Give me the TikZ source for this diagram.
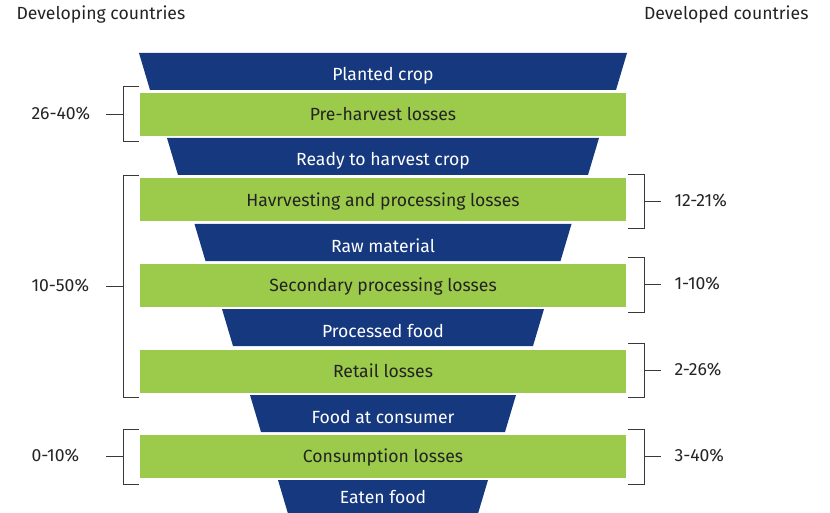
\documentclass[tikz,border=0pt]{standalone}
\usepackage{fontspec}
\setmainfont{Fira Sans}
\usetikzlibrary{positioning}
\definecolor{funnelblue}{RGB}{21,56,126}
\definecolor{lossgreen}{RGB}{156,202,74}
\definecolor{txtgray}{RGB}{35,35,35}
\newcommand{\lbl}{\fontsize{17.6}{20}\selectfont}
\tikzset{
  stage/.style={fill=funnelblue},                       % blue funnel band
  stagetxt/.style={text=white,font=\lbl,anchor=base},
  loss/.style={fill=lossgreen,minimum width=486pt,minimum height=43pt,
    inner sep=0pt,text=txtgray,font=\lbl,text height=12.5pt,text depth=0pt},
  pct/.style={text=txtgray,font=\lbl},
  brk/.style={draw=txtgray!90,line width=1pt},
}
\newcommand{\stage}[5][28]{% [baseline offset], name, y top, half width at top, text
  \fill[stage] (383-#4,#3) -- (383+#4,#3) -- (383+#4-11,#3+37) -- (383-#4+11,#3+37) -- cycle;
  \node[stagetxt] (#2) at (383,#3+#1) {#5};
}
\newcommand{\spanL}[4]{% name, y top, y bottom, text
  \draw[brk] (139,#2) -- (123,#2) -- (123,#3) -- (139,#3);
  \coordinate (#1-m) at (123,{(#2+#3)/2});
  \node[pct,anchor=base west] (#1) at (28,{(#2+#3)/2+5}) {#4};
  \draw[brk] (#1-m) -- ++(-17,0);
}
\newcommand{\spanR}[4]{% name, y top, y bottom, text
  \draw[brk] (628,#2) -- (644,#2) -- (644,#3) -- (628,#3);
  \coordinate (#1-m) at (644,{(#2+#3)/2});
  \node[pct,anchor=base west] (#1) at (671,{(#2+#3)/2+5}) {#4};
  \draw[brk] (#1-m) -- ++(17,0);
}

\begin{document}
\begin{tikzpicture}[x=1pt,y=-1pt]
  \clip (0,0) rectangle (830,513);
  % headers
  \node[pct,anchor=base west] (dev) at (13,20) {Developing countries};
  \node[pct,anchor=base east] (ind) at (812,20) {Developed countries};
  % funnel
  \stage{planted}{53}{244}{Planted crop}
  \node[loss] (preharvest) at (383,114.5) {Pre-harvest losses};
  \stage{ready}{138}{216}{Ready to harvest crop}
  \node[loss] (harvest) at (383,200) {Havrvesting and processing losses};
  \stage{raw}{224}{188.5}{Raw material}
  \node[loss] (secondary) at (383,285.5) {Secondary processing losses};
  \stage{processed}{309}{161}{Processed food}
  \node[loss] (retail) at (383,371) {Retail losses};
  \stage{consumer}{395}{133}{Food at consumer}
  \node[loss] (consumption) at (383,456.5) {Consumption losses};
  \stage[23]{eaten}{480}{105}{Eaten food}
  % developing countries
  \spanL{pre}{87}{142}{26-40\%}
  \spanL{mid}{176}{397}{10-50\%}
  \spanL{con}{429}{484}{0-10\%}
  % developed countries
  \spanR{har}{175}{229}{12-21\%}
  \spanR{sec}{257}{312}{1-10\%}
  \spanR{ret}{343}{397}{2-26\%}
  \spanR{cns}{429}{484}{3-40\%}
\end{tikzpicture}
\end{document}
